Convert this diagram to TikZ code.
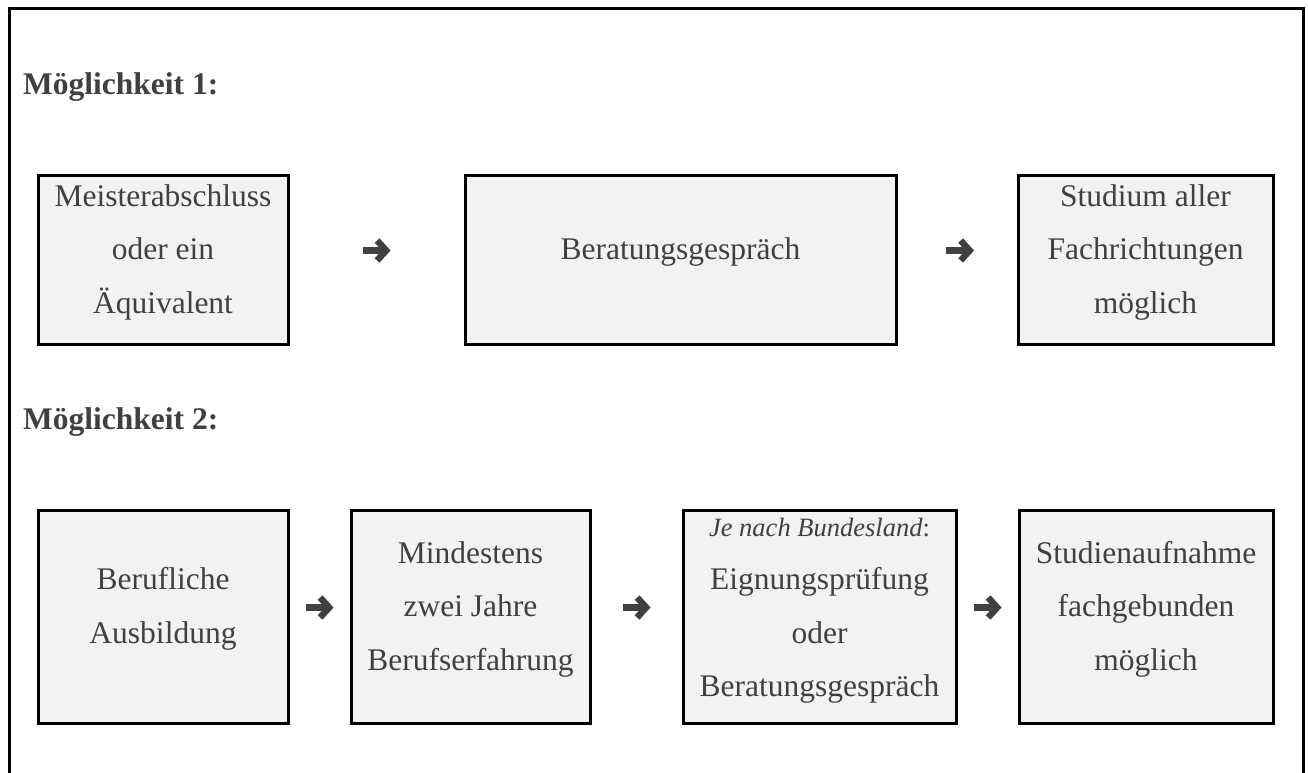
\documentclass[tikz,border=0pt]{standalone}
\usepackage{fontspec}
\setmainfont{Liberation Serif}
\usetikzlibrary{calc,arrows.meta}
\definecolor{txt}{HTML}{404040}
\definecolor{boxfill}{HTML}{F2F2F2}
\newcommand\Ls{\rule[-26.75pt]{0pt}{53.5pt}}
\newcommand\Lt{\rule[-25.5pt]{0pt}{51pt}}
\begin{document}
\begin{tikzpicture}[x=1pt,y=-1pt,
  box/.style={draw=black,line width=3pt,fill=boxfill,inner sep=0pt,align=center,text=txt,
    font=\fontsize{31.5}{53.5}\selectfont},
  row1/.style={minimum height=169pt},
  row2/.style={minimum height=213pt},
  head/.style={anchor=base west,inner sep=0pt,text=txt,font=\fontsize{31.5}{38}\selectfont\bfseries},
  bigarr/.style={draw=txt,line width=6.5pt,-{Straight Barb[length=9pt,width=20pt]}}]
\useasboundingbox (0,0) rectangle (1308,773);
\fill[white] (0,0) rectangle (1308,773);
\draw[line width=3pt] (9,775) -- (9,9) -- (1303,9) -- (1303,775);

\node[head] (h1) at (23,95) {Möglichkeit 1:};
\node[head] (h2) at (23,429) {Möglichkeit 2:};

\node[box,row1,minimum width=250pt] (A) at (163,259.5) {\Ls Meisterabschluss\\\Ls oder ein\\\Ls Äquivalent};
\node[box,row1,minimum width=431pt] (B) at (680.5,259.5) {\Ls Beratungsgespräch};
\node[box,row1,minimum width=255pt] (C) at (1145.5,259.5) {\Ls Studium aller\\\Ls Fachrichtungen\\\Ls möglich};

\node[box,row2,minimum width=250pt] (D) at (163,616.5) {\Ls Berufliche\\\Ls Ausbildung};
\node[box,row2,minimum width=239pt] (E) at (470.5,616.5) {\Ls Mindestens\\\Ls zwei Jahre\\\Ls Berufserfahrung};
\node[box,row2,minimum width=273pt] (F) at (819.5,616.5) {{\fontsize{26.5}{51}\selectfont\Lt\textit{Je nach Bundesland}:}\\\Lt Eignungsprüfung\\\Lt oder\\\Lt Beratungsgespräch};
\node[box,row2,minimum width=254pt] (G) at (1146,616.5) {\Ls Studienaufnahme\\\Ls fachgebunden\\\Ls möglich};

\coordinate (m1) at ($(A.east)!0.5!(B.west)+(0,-9)$);
\coordinate (m2) at ($(B.east)!0.5!(C.west)+(3,-9)$);
\coordinate (m3) at ($(D.east)!0.5!(E.west)+(0,-9)$);
\coordinate (m4) at ($(E.east)!0.5!(F.west)+(0,-9)$);
\coordinate (m5) at ($(F.east)!0.5!(G.west)+(0,-9)$);
\foreach \m in {m1,m2,m3,m4,m5}{
  \draw[bigarr] ($(\m)+(-14,0)$) -- ($(\m)+(14,0)$);
}
\end{tikzpicture}
\end{document}
